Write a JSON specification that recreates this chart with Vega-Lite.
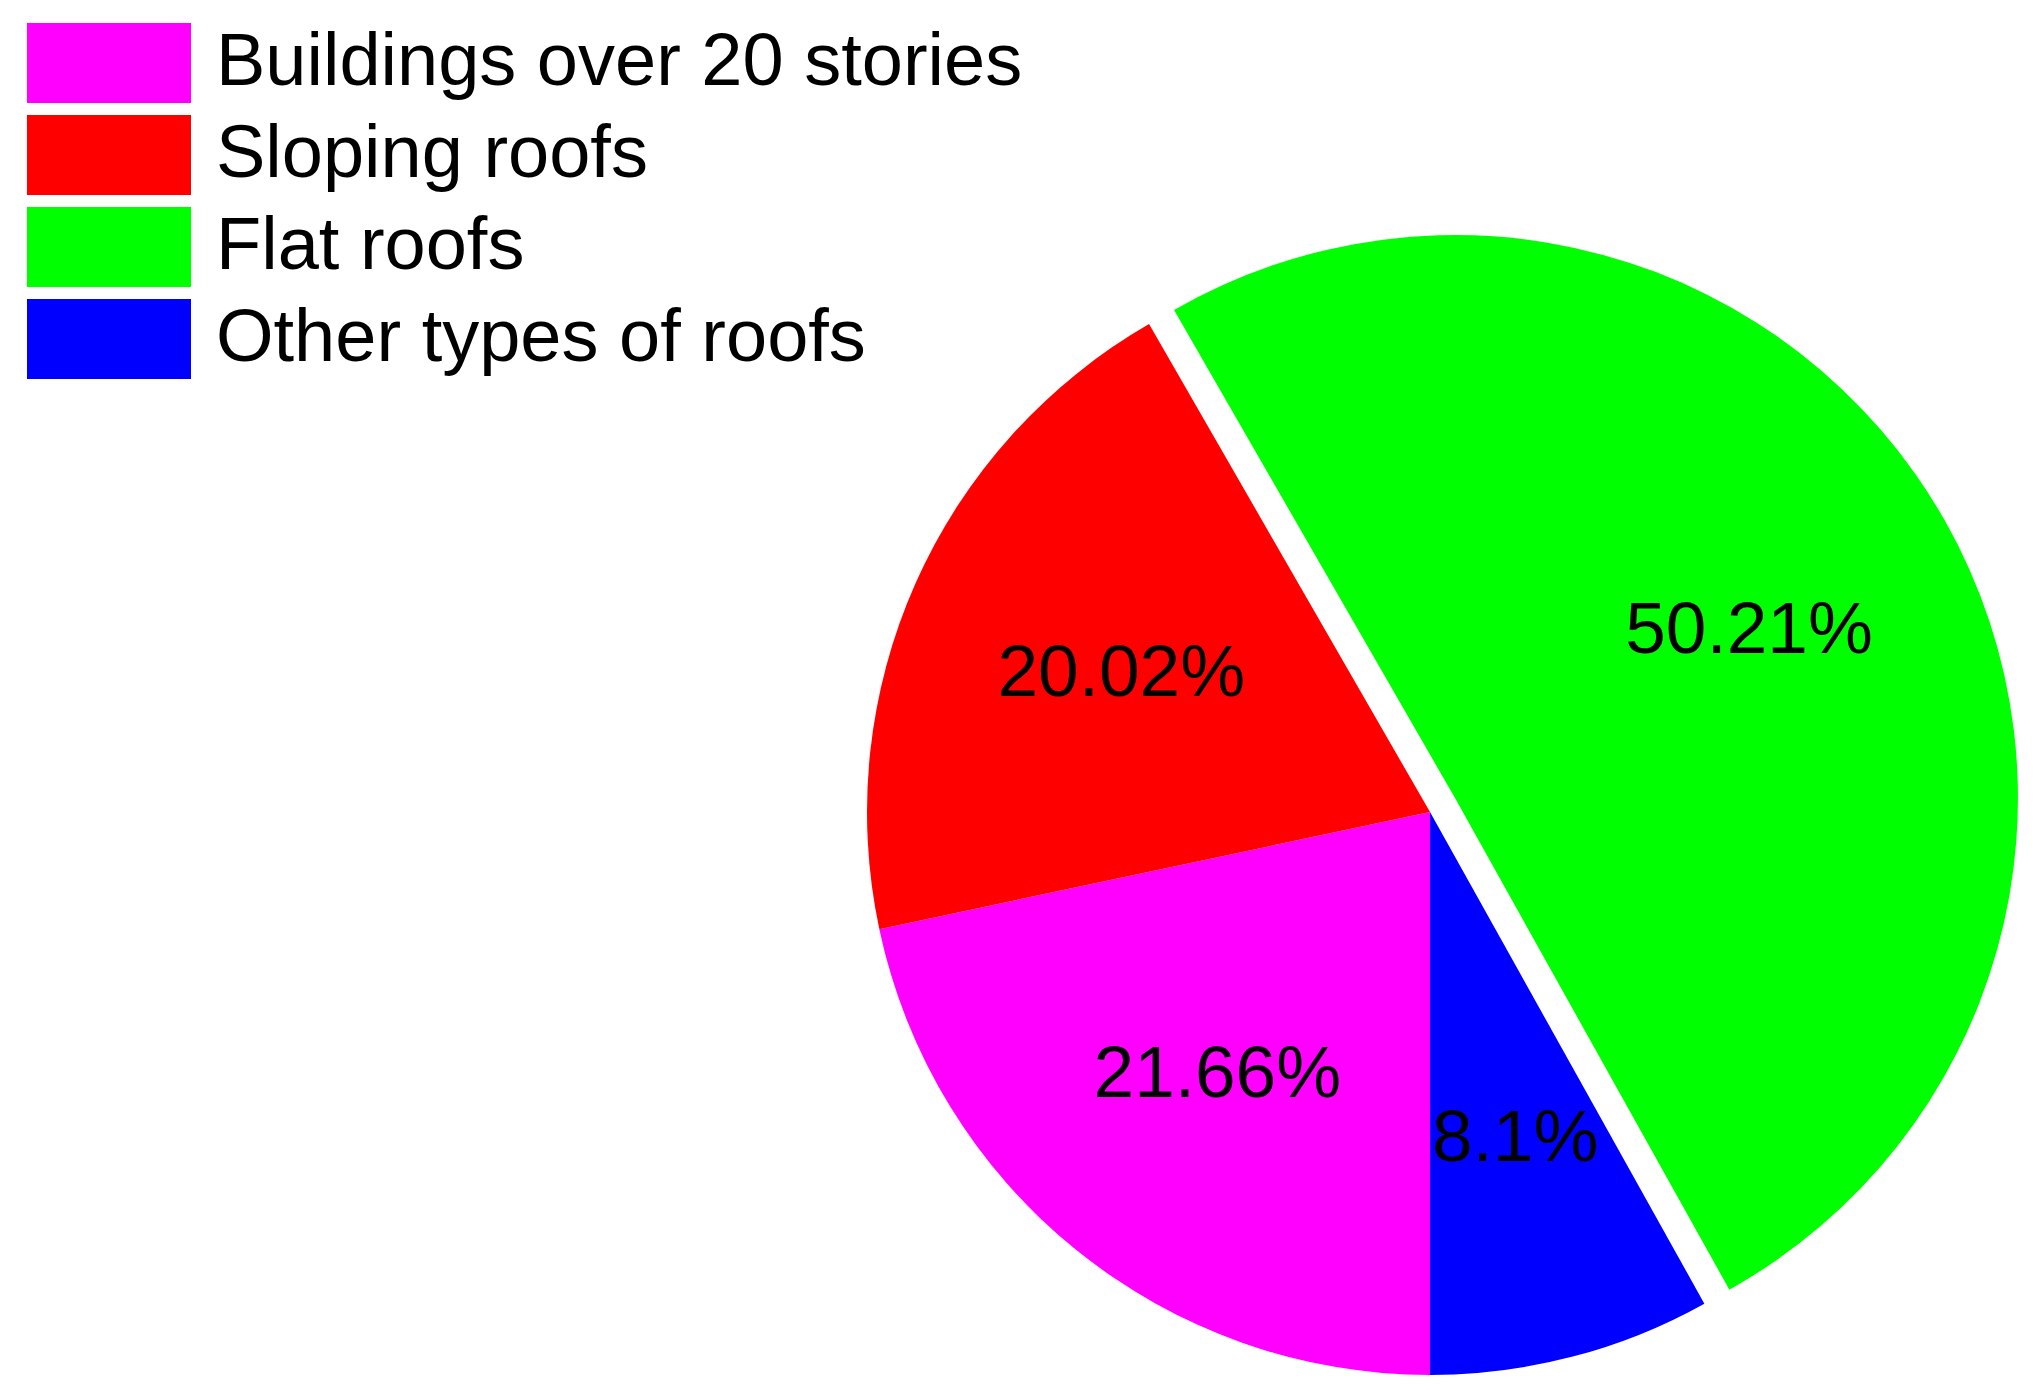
{
  "$schema": "https://vega.github.io/schema/vega-lite/v6.json",
  "width": 1126,
  "height": 1126,
  "autosize": {"type": "none"},
  "padding": {"left": 867, "top": 249, "right": 40, "bottom": 18},
  "background": "white",
  "config": {"view": {"stroke": null}},
  "data": {
    "values": [
      {"label": "Buildings over 20 stories", "value": 21.66, "pct": "21.66%", "order": 1},
      {"label": "Sloping roofs", "value": 20.02, "pct": "20.02%", "order": 2},
      {"label": "Flat roofs", "value": 50.21, "pct": "50.21%", "order": 3},
      {"label": "Other types of roofs", "value": 8.1, "pct": "8.1%", "order": 4}
    ]
  },
  "encoding": {
    "theta": {"field": "value", "type": "quantitative", "stack": true, "scale": {"range": [3.14159265, 9.42477796]}},
    "order": {"field": "order", "type": "quantitative"}
  },
  "layer": [
    {
      "mark": {"type": "arc", "stroke": null},
      "encoding": {
        "color": {
          "field": "label",
          "type": "nominal",
          "condition": {"test": "datum.label === 'Flat roofs'", "value": "transparent"},
          "scale": {
            "domain": ["Buildings over 20 stories", "Sloping roofs", "Flat roofs", "Other types of roofs"],
            "range": ["#ff00ff", "#ff0000", "#00ff00", "#0000ff"]
          },
          "legend": {
            "title": null,
            "orient": "none",
            "legendX": -840,
            "legendY": -226,
            "padding": 0,
            "symbolType": "M-1,-0.49H1V0.49H-1Z",
            "symbolSize": 26896,
            "symbolStrokeWidth": 0,
            "symbolOpacity": 1,
            "clipHeight": 80,
            "rowPadding": 12,
            "labelOffset": 25,
            "labelFontSize": 74,
            "labelFont": "Liberation Sans",
            "labelColor": "black",
            "labelLimit": 1500
          }
        }
      }
    },
    {
      "mark": {"type": "arc", "stroke": null, "xOffset": 25, "yOffset": -14},
      "encoding": {
        "color": {
          "field": "label",
          "type": "nominal",
          "condition": {"test": "datum.label !== 'Flat roofs'", "value": "transparent"}
        }
      }
    },
    {
      "mark": {"type": "text", "radius": 338, "fontSize": 73, "font": "Liberation Sans", "color": "black"},
      "encoding": {
        "text": {"field": "pct", "type": "nominal", "condition": {"test": "datum.label === 'Flat roofs'", "value": ""}}
      }
    },
    {
      "mark": {"type": "text", "radius": 338, "fontSize": 73, "font": "Liberation Sans", "color": "black", "xOffset": 25, "yOffset": -14},
      "encoding": {
        "text": {"field": "pct", "type": "nominal", "condition": {"test": "datum.label !== 'Flat roofs'", "value": ""}}
      }
    }
  ]
}
